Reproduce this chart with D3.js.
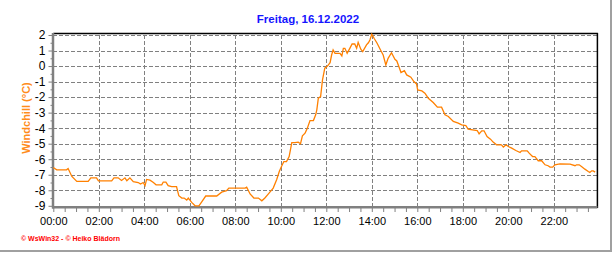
<!DOCTYPE html>
<html>
  <head>
    <script type="text/javascript" src="https://cdn.jsdelivr.net/npm/d3@7/dist/d3.min.js"></script>
    <style type="text/css">

html, body {
  margin: 0;
  background: #fff;
}

svg {
  display: block;
  font-family: "Liberation Sans", Arial, sans-serif;
}

.grid line {
  stroke: #808080;
  stroke-width: 1;
  stroke-dasharray: 4,2;
  shape-rendering: crispEdges;
}

.tick-label {
  font-size: 11px;
  fill: #000;
}

    </style>
  </head>
  <body>
    <div id="chart"></div>
    <script type="text/javascript">

// minutes since midnight / windchill in °C
var minutes = [0, 9, 35, 39, 49, 62, 92, 99, 114, 119, 154, 160, 171, 180, 189, 194, 202, 211, 224, 230,
  237, 242, 246, 255, 264, 271, 286, 290, 297, 303, 312, 325, 331, 339, 345, 352, 356, 365, 374, 384,
  391, 402, 431, 444, 457, 463, 506, 510, 519, 529, 541, 550, 558, 569, 580, 589, 596, 600, 608, 615,
  622, 629, 637, 646, 652, 657, 664, 670, 677, 686, 692, 695, 699, 705, 710, 716, 723, 730, 734, 738,
  743, 756, 761, 765, 769, 775, 782, 788, 795, 800, 804, 811, 816, 826, 831, 835, 840, 846, 854, 862,
  870, 877, 883, 892, 901, 906, 912, 917, 926, 932, 943, 951, 958, 961, 972, 980, 989, 1002, 1013, 1024,
  1033, 1042, 1055, 1068, 1077, 1088, 1094, 1118, 1123, 1130, 1136, 1144, 1153, 1160, 1169, 1182, 1187, 1194, 1200, 1209,
  1220, 1231, 1235, 1250, 1255, 1264, 1270, 1279, 1288, 1297, 1305, 1310, 1317, 1323, 1336, 1363, 1376, 1380, 1387, 1393,
  1402, 1411, 1415, 1420, 1424, 1429];

var windchill = [-6.53, -6.68, -6.68, -6.6, -7.11, -7.43, -7.43, -7.2, -7.2, -7.39, -7.39, -7.2, -7.2, -7.37, -7.2, -7.39, -7.2, -7.45, -7.5, -7.6,
  -7.5, -7.7, -7.3, -7.35, -7.5, -7.65, -7.65, -7.47, -7.47, -7.7, -7.77, -7.77, -8.35, -8.5, -8.5, -8.63, -8.5, -8.78, -9.0, -9.0,
  -8.76, -8.37, -8.37, -8.12, -8.03, -7.86, -7.86, -7.8, -8.24, -8.5, -8.5, -8.68, -8.5, -8.18, -7.86, -7.32, -6.79, -6.57, -6.15, -6.15,
  -5.83, -4.93, -4.93, -4.9, -5.0, -4.49, -4.32, -4.0, -3.51, -3.51, -3.14, -2.82, -2.07, -1.97, -0.89, -0.14, 0.0, 0.22, 0.71, 1.04,
  0.82, 0.82, 0.65, 1.14, 1.14, 0.82, 1.14, 1.42, 1.42, 1.14, 1.53, 1.08, 0.93, 1.36, 1.5, 1.68, 2.05, 1.79, 1.47, 1.08,
  0.71, 0.07, 0.5, 0.86, 0.44, 0.33, -0.08, -0.42, -0.3, -0.57, -0.72, -1.0, -1.15, -1.54, -1.6, -1.75, -2.07, -2.35, -2.65, -2.65,
  -3.14, -3.25, -3.57, -3.68, -3.79, -3.83, -4.06, -4.15, -4.37, -4.17, -4.17, -4.54, -4.71, -4.9, -5.07, -5.07, -5.22, -5.07, -5.18, -5.29,
  -5.44, -5.57, -5.46, -5.46, -5.61, -5.83, -5.83, -6.1, -6.1, -6.36, -6.42, -6.51, -6.51, -6.36, -6.3, -6.32, -6.42, -6.36, -6.36, -6.47,
  -6.64, -6.79, -6.85, -6.75, -6.75, -6.83];

var yTicks = [2, 1, 0, -1, -2, -3, -4, -5, -6, -7, -8, -9];
var xTicks = [0, 120, 240, 360, 480, 600, 720, 840, 960, 1080, 1200, 1320];
var xLabels = ["00:00", "02:00", "04:00", "06:00", "08:00", "10:00", "12:00", "14:00", "16:00", "18:00", "20:00", "22:00"];

var title = "Freitag, 16.12.2022",
    yTitle = "Windchill  (°C)",
    credit = "\u00A9 WsWin32  -  \u00A9 Heiko Blädorn";

var width = 616,
    height = 253;

var svg = d3.select("#chart").append("svg")
    .attr("width", width)
    .attr("height", height);

var x = d3.scaleLinear().domain([0, 1435]).range([53.3, 597.4]);
var y = d3.scaleLinear().domain([-9, 2]).range([205.8, 35]);

// outer frame (right + bottom grey lines)
svg.append("line")
    .attr("x1", 611).attr("x2", 611).attr("y1", 0).attr("y2", 251)
    .attr("stroke", "#a0a0a0").attr("stroke-width", 2);
svg.append("line")
    .attr("x1", 0).attr("x2", 612).attr("y1", 251).attr("y2", 251)
    .attr("stroke", "#a0a0a0").attr("stroke-width", 2);

// title
svg.append("text")
    .attr("x", 308)
    .attr("y", 23)
    .attr("text-anchor", "middle")
    .style("font-size", "11.5px")
    .style("font-weight", "bold")
    .style("fill", "#1515ff")
    .text(title);

// grid
var grid = svg.append("g").attr("class", "grid");

grid.selectAll("line.h")
    .data(yTicks)
  .enter().append("line")
    .attr("class", "h")
    .attr("x1", x(0)).attr("x2", x.range()[1])
    .attr("y1", function(d) { return Math.round(y(d)) + 0.5; })
    .attr("y2", function(d) { return Math.round(y(d)) + 0.5; });

grid.selectAll("line.v")
    .data(xTicks.slice(1))
  .enter().append("line")
    .attr("class", "v")
    .attr("x1", function(d) { return Math.round(x(d)) + 0.5; })
    .attr("x2", function(d) { return Math.round(x(d)) + 0.5; })
    .attr("y1", y(2)).attr("y2", y(-9));

// plot border top / right
svg.append("line")
    .attr("x1", x(0)).attr("x2", x.range()[1] + 0.5).attr("y1", 33.5).attr("y2", 33.5)
    .attr("stroke", "#000").attr("stroke-width", 1.5);
svg.append("line")
    .attr("x1", x.range()[1]).attr("x2", x.range()[1]).attr("y1", 33).attr("y2", 208)
    .attr("stroke", "#000").attr("stroke-width", 1.5);

// y axis
var yAxis = d3.axisLeft(y)
    .tickValues(d3.range(-9, 2.01, 0.5))
    .tickSize(4)
    .tickFormat(function(d) { return Number.isInteger(d) ? d : ""; });

var gy = svg.append("g")
    .attr("transform", "translate(52.5,0)")
    .call(yAxis);
gy.select(".domain").remove();
gy.selectAll(".tick line")
    .attr("stroke", "#808080")
    .attr("x2", function(d) { return Number.isInteger(d) ? -4 : -2; });
gy.selectAll(".tick text")
    .attr("x", -7)
    .attr("class", "tick-label")
    .style("font-family", "'Liberation Sans', Arial, sans-serif")
    .style("font-size", "12px");

// x axis
var xAxis = d3.axisBottom(x)
    .tickValues(d3.range(0, 1435, 30))
    .tickSize(4)
    .tickFormat(function(d) { var i = xTicks.indexOf(d); return i >= 0 ? xLabels[i] : ""; });

var gx = svg.append("g")
    .attr("transform", "translate(0,208)")
    .call(xAxis);
gx.select(".domain").remove();
gx.selectAll(".tick line").attr("stroke", "#808080");
gx.selectAll(".tick text")
    .attr("y", 9)
    .attr("class", "tick-label")
    .style("font-family", "'Liberation Sans', Arial, sans-serif")
    .style("font-size", "11px");

// axis lines (thick grey)
svg.append("line")
    .attr("x1", 53).attr("x2", 53).attr("y1", 33).attr("y2", 208.5)
    .attr("stroke", "#808080").attr("stroke-width", 2.5);
svg.append("line")
    .attr("x1", 52).attr("x2", x.range()[1]).attr("y1", 207.3).attr("y2", 207.3)
    .attr("stroke", "#808080").attr("stroke-width", 2.5);

// y title
svg.append("text")
    .attr("transform", "translate(30,118) rotate(-90)")
    .attr("text-anchor", "middle")
    .style("font-size", "11px")
    .style("font-weight", "bold")
    .style("fill", "#ff8c1a")
    .text(yTitle);

// windchill line
var line = d3.line()
    .x(function(d) { return x(d[0]); })
    .y(function(d) { return y(d[1]); });

svg.append("path")
    .datum(d3.zip(minutes, windchill))
    .attr("d", line)
    .attr("fill", "none")
    .attr("stroke", "#ff8000")
    .attr("stroke-width", 1.3);

// credit
svg.append("text")
    .attr("x", 21)
    .attr("y", 241)
    .style("font-size", "7px")
    .style("font-weight", "bold")
    .style("fill", "#ff0000")
    .text(credit);

    </script>
  </body>
</html>
